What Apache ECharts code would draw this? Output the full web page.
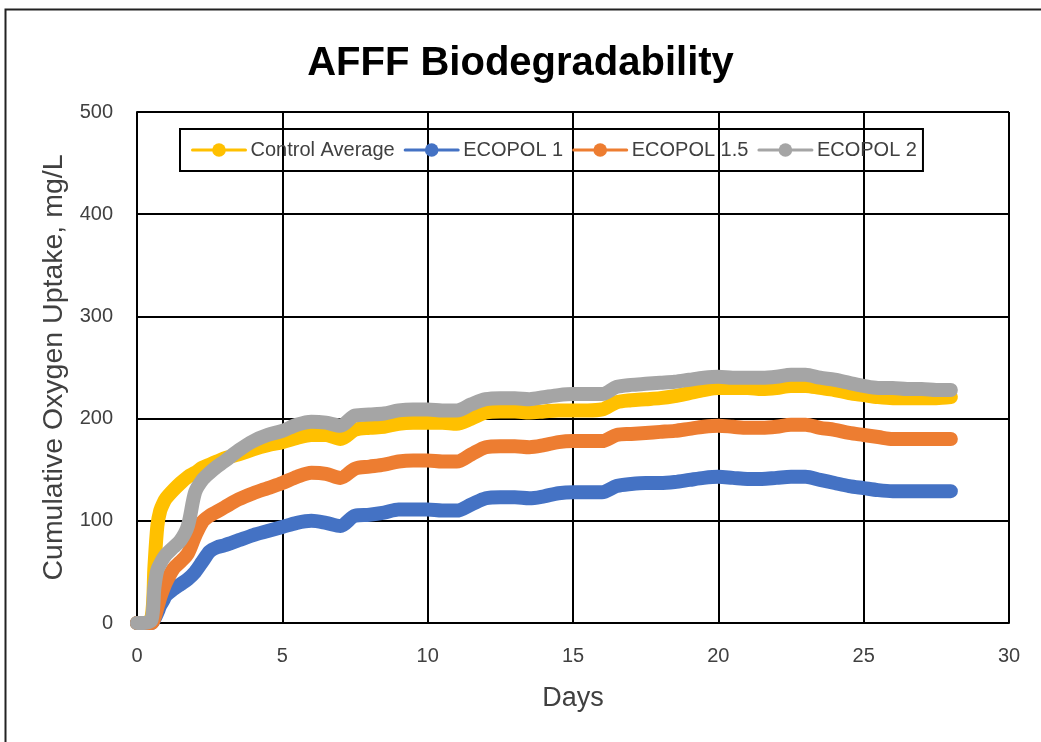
<!DOCTYPE html>
<html>
<head>
<meta charset="utf-8">
<script src="https://cdn.jsdelivr.net/npm/echarts@6/dist/echarts.min.js"></script>
<style>html,body{margin:0;padding:0;background:#fff}#c{width:1041px;height:742px}</style>
</head>
<body>
<div id="c"></div>
<script>
var days = [0,0.25,0.5,0.6,0.7,0.8,0.9,1.0,1.25,1.5,1.75,2.0,2.25,2.5,2.75,
  3,3.5,4,4.5,5,5.5,6,6.5,7,7.5,8,8.5,9,9.5,10,10.5,11,11.5,12,12.5,13,13.5,14,14.5,15,15.5,16,16.5,17,17.5,18,18.5,19,19.5,20,20.5,21,21.5,22,22.5,23,23.5,24,24.5,25,25.5,26,26.5,27,27.5,28];
var controlAverage = [0,0,5,55,95,110,117,122,130,137,143,147,152,155,158,
  161,165,170,174,177,181,184,184,180,189,191,192,195,196,196,196,195,200,206,207,207,206,207,208,208,208,209,216,218,219,220,222,225,228,230,230,230,229,230,232,232,230,228,225,223,221,220,220,220,220,221];
var ecopol1 = [0,0,0,4,10,17,22,27,33,38,43,50,60,70,74,
  76,81,86,90,94,98,100,98,95,105,106,108,111,111,111,110,110,116,122,123,123,122,124,127,128,128,128,134,136,137,137,138,140,142,143,142,141,141,142,143,143,140,137,134,132,130,129,129,129,129,129];
var ecopol15 = [0,0,0,5,15,25,33,40,53,60,68,85,99,105,109,
  113,121,127,132,137,143,147,146,142,151,153,155,158,159,159,158,158,165,172,173,173,172,174,177,178,178,178,184,185,186,187,188,190,192,193,192,191,191,192,194,194,191,189,186,184,182,180,180,180,180,180];
var ecopol2 = [0,0,3,35,52,58,63,67,74,81,95,128,140,147,153,
  158,169,178,184,188,194,197,196,193,203,204,205,208,209,209,208,208,214,219,220,220,219,221,223,224,224,224,231,233,234,235,236,238,240,241,240,240,240,241,243,243,240,238,235,232,230,230,229,229,228,228];
var seriesNames = ['Control Average','ECOPOL 1','ECOPOL 1.5','ECOPOL 2'];
var seriesValues = [controlAverage, ecopol1, ecopol15, ecopol2];
var colors = ['#FFC000','#4472C4','#ED7D31','#A5A5A5'];
var xTicks = [0,5,10,15,20,25,30];
var yTicks = [0,100,200,300,400,500];

var chart = echarts.init(document.getElementById('c'), null, {renderer:'canvas'});
var font = '"Liberation Sans", Arial, sans-serif';
var series = seriesValues.map(function(vals, i){
  return {
    name: seriesNames[i],
    type: 'line',
    data: days.map(function(d, j){ return [d, vals[j]]; }),
    symbol: 'circle',
    symbolSize: 14,
    showSymbol: false,
    smooth: 0.3,
    color: colors[i],
    itemStyle: {color: colors[i]},
    lineStyle: {width: 14, color: colors[i], cap: 'round', join: 'round'},
    z: 2 + i,
    animation: false
  };
});
chart.setOption({
  backgroundColor: '#fff',
  animation: false,
  title: {
    text: 'AFFF Biodegradability',
    left: 'center', top: 39,
    textStyle: {fontFamily: font, fontWeight: 'bold', fontSize: 40, color: '#000'}
  },
  legend: {
    data: seriesNames,
    left: 180, top: 129,
    padding: [11, 6, 11, 11],
    itemGap: 9,
    itemWidth: 53, itemHeight: 17,
    lineStyle: {width: 3},
    borderColor: '#000', borderWidth: 2,
    textStyle: {fontFamily: font, fontSize: 20, color: '#404040'}
  },
  grid: {left: 137, right: 32, top: 112, bottom: 119, containLabel: false},
  xAxis: {
    type: 'value', min: 0, max: 30, interval: 5,
    name: 'Days', nameLocation: 'middle', nameGap: 62,
    nameTextStyle: {fontFamily: font, fontSize: 27, color: '#404040'},
    axisLine: {show: true, onZero: false, lineStyle: {color: '#000', width: 2}},
    axisTick: {show: false},
    axisLabel: {fontFamily: font, fontSize: 20, color: '#404040', margin: 23},
    splitLine: {show: true, lineStyle: {color: '#000', width: 2}}
  },
  yAxis: {
    type: 'value', min: 0, max: 500, interval: 100,
    name: 'Cumulative Oxygen Uptake, mg/L', nameLocation: 'middle', nameGap: 68,
    nameTextStyle: {fontFamily: font, fontSize: 28.5, color: '#404040'},
    axisLine: {show: true, lineStyle: {color: '#000', width: 2}},
    axisTick: {show: false},
    axisLabel: {fontFamily: font, fontSize: 20, color: '#404040', margin: 24},
    splitLine: {show: true, lineStyle: {color: '#000', width: 2}}
  },
  graphic: [{
    type: 'rect', left: 3, top: 7, silent: true,
    shape: {width: 1060, height: 760},
    style: {fill: 'none', stroke: '#222', lineWidth: 2}
  }],
  series: series
});
</script>
</body>
</html>
